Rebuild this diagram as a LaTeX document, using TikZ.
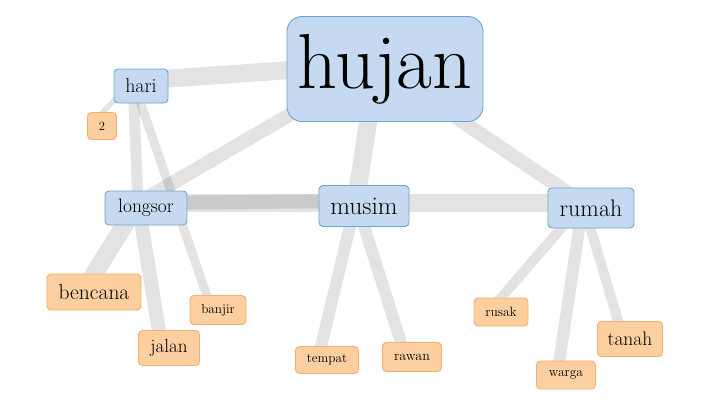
\documentclass[tikz,border=0pt]{standalone}
\usetikzlibrary{positioning, backgrounds}
\definecolor{hubfill}{HTML}{C5DAF0}
\definecolor{hubline}{HTML}{6EA5CD}
\definecolor{leaffill}{HTML}{FCCFA0}
\definecolor{leafline}{HTML}{F2B06E}
\begin{document}
\begin{tikzpicture}[on grid,
    n/.style={rectangle, rounded corners=4pt, line width=0.9pt, inner sep=0pt},
    hub/.style={n, fill=hubfill, draw=hubline},
    leaf/.style={n, fill=leaffill, draw=leafline},
    fs/.style={font=\fontsize{#1}{#1}\selectfont},
    e/.style={draw=black, opacity=.11}]
\useasboundingbox (0,0) rectangle (721pt,-413pt);
\node[hub, fs=78, rounded corners=15pt, minimum width=196pt, minimum height=105pt] (hujan) at (385pt,-69pt) {hujan};
\node[hub, fs=20, minimum width=54pt, minimum height=34pt, below left=17pt and 244pt of hujan] (hari) {hari};
\node[leaf, fs=12.5, minimum width=29pt, minimum height=27pt, below left=40pt and 39pt of hari] (two) {2};
\node[hub, fs=19.5, minimum width=82pt, minimum height=34pt, below right=122pt and 5pt of hari] (longsor) {longsor};
\node[hub, fs=25.5, minimum width=90pt, minimum height=41pt, below left=137pt and 21pt of hujan] (musim) {musim};
\node[hub, fs=24, minimum width=86pt, minimum height=40pt, below right=139pt and 206pt of hujan] (rumah) {rumah};
\node[leaf, fs=21.5, minimum width=94pt, minimum height=36pt, below left=84pt and 52pt of longsor] (bencana) {bencana};
\node[leaf, fs=19, minimum width=61pt, minimum height=35pt, below right=140pt and 23pt of longsor] (jalan) {jalan};
\node[leaf, fs=13.2, minimum width=56pt, minimum height=29pt, below right=102pt and 72pt of longsor] (banjir) {banjir};
\node[leaf, fs=13.2, minimum width=63pt, minimum height=27pt, below left=154pt and 37pt of musim] (tempat) {tempat};
\node[leaf, fs=14, minimum width=59pt, minimum height=29pt, below right=151pt and 48pt of musim] (rawan) {rawan};
\node[leaf, fs=13.5, minimum width=54pt, minimum height=28pt, below left=104pt and 90pt of rumah] (rusak) {rusak};
\node[leaf, fs=13.5, minimum width=59pt, minimum height=28pt, below left=167pt and 25pt of rumah] (warga) {warga};
\node[leaf, fs=19.5, minimum width=65pt, minimum height=35pt, below right=131pt and 39pt of rumah] (tanah) {tanah};
\begin{pgfonlayer}{background}
\begin{scope}[transform canvas={xshift=-8pt, yshift=5pt}]
\draw[e, line width=18pt] (hujan.center) -- (hari.center);
\draw[e, line width=14pt] (hujan.center) -- (longsor.center);
\draw[e, line width=18pt] (hujan.center) -- (musim.center);
\draw[e, line width=14pt] (hujan.center) -- (rumah.center);
\draw[e, line width=5pt] (hari.center) -- (two.center);
\draw[e, line width=11pt] (hari.center) -- (longsor.center);
\draw[e, line width=9pt] (hari.center) -- (banjir.center);
\draw[e, line width=14pt] (longsor.center) -- (musim.center);
\draw[e, line width=18pt] (longsor.center) -- (rumah.center);
\draw[e, line width=18pt] (longsor.center) -- (bencana.center);
\draw[e, line width=14pt] (longsor.center) -- (jalan.center);
\draw[e, line width=12pt] (musim.center) -- (tempat.center);
\draw[e, line width=12pt] (musim.center) -- (rawan.center);
\draw[e, line width=10pt] (rumah.center) -- (rusak.center);
\draw[e, line width=12pt] (rumah.center) -- (warga.center);
\draw[e, line width=10pt] (rumah.center) -- (tanah.center);
\end{scope}
\end{pgfonlayer}
\end{tikzpicture}
\end{document}
